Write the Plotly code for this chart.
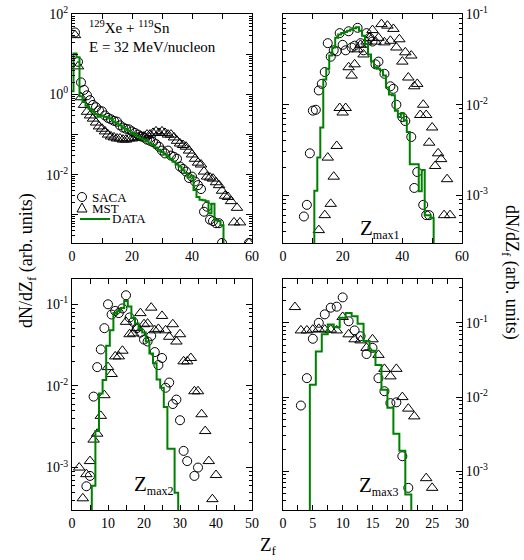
import plotly.graph_objects as go

W, H = 524, 560          # browser window
OFF = 0                  # page margin removed via post_script below
FW, FH = W - OFF, H - OFF
FONT = "Liberation Serif"
GREEN = "rgb(0,128,0)"

# ---------------- Panel 1 : all fragments ----------------
p1_data_z = list(range(0, 52))
p1_data_v = [1.2, 10.5, 8.5, 0.9, 0.65, 0.52, 0.44, 0.37, 0.32, 0.28,
             0.30, 0.28, 0.27, 0.25, 0.21, 0.19, 0.17, 0.15, 0.14, 0.125,
             0.11, 0.10, 0.09, 0.08, 0.075, 0.068, 0.06, 0.055, 0.048, 0.042,
             0.037, 0.032, 0.028, 0.025, 0.021, 0.018, 0.016, 0.013, 0.011, 0.0085,
             0.0095, 0.0042, 0.0028, 0.0024, 0.0023, 0.0022, 0.0011, 0.0019, 0.00075, 0.0007,
             0.00055, 1e-6]

p1_saca_z = list(range(1, 51)) + [59]
p1_saca_v = [35, 6.5, 2.0, 1.3, 0.95, 0.72, 0.55, 0.48, 0.40, 0.38,
             0.30, 0.26, 0.24, 0.22, 0.21, 0.17, 0.15, 0.14, 0.135, 0.12,
             0.11, 0.10, 0.09, 0.085, 0.075, 0.07, 0.065, 0.058, 0.05, 0.04,
             0.034, 0.04, 0.03, 0.028, 0.025, 0.016, 0.014, 0.012, 0.0083, 0.009,
             0.0068, 0.0055, 0.0044, 0.0012, 0.0016, 0.00076, 0.0007, 0.00062, 0.00062, 0.0002,
             0.0002]

p1_mst_z = list(range(1, 57)) + [59]
p1_mst_v = [30, 5.0, 0.85, 0.55, 0.37, 0.30, 0.25, 0.20, 0.16, 0.14,
            0.12, 0.10, 0.09, 0.085, 0.08, 0.08, 0.075, 0.075, 0.08, 0.08,
            0.085, 0.085, 0.09, 0.09, 0.10, 0.10, 0.11, 0.12, 0.11, 0.12,
            0.11, 0.10, 0.10, 0.085, 0.07, 0.06, 0.055, 0.05, 0.04, 0.032,
            0.025, 0.02, 0.018, 0.012, 0.009, 0.0085, 0.008, 0.0065, 0.0055, 0.004,
            0.003, 0.0028, 0.0022, 0.00065, 0.0015, 0.00065, 0.0002]

# ---------------- Panel 2 : Zmax1 ----------------
p2_data_z = list(range(10, 52))
p2_data_v = [1e-6, 0.00112, 0.0026, 0.0056, 0.019, 0.025, 0.035, 0.043, 0.055, 0.060,
             0.062, 0.064, 0.066, 0.068, 0.070, 0.072, 0.066, 0.058, 0.047, 0.036,
             0.030, 0.026, 0.025, 0.024, 0.021, 0.0155, 0.013, 0.0127, 0.0086, 0.0073,
             0.0080, 0.0067, 0.0050, 0.0022, 0.0022, 0.0022, 0.0011, 0.0019, 0.0006, 0.0006,
             0.00056, 1e-6]

p2_saca_z = [7, 8, 9, 10, 11, 12, 13, 14, 15, 16, 17, 18, 19, 20, 21, 22, 23, 24, 25, 26,
             27, 28, 29, 30, 31, 32, 34, 36, 37, 38, 40, 41, 43, 44, 45, 47, 48, 49]
p2_saca_v = [5.8e-4, 7.8e-4, 2.9e-3, 8.6e-3, 8.8e-3, 0.0144, 0.017, 0.023, 0.048, 0.034,
             0.040, 0.039, 0.062, 0.046, 0.040, 0.065, 0.043, 0.045, 0.071, 0.048,
             0.040, 0.062, 0.055, 0.050, 0.028, 0.030, 0.022, 0.016, 0.015, 0.010,
             0.0073, 0.0066, 0.0044, 0.0012, 0.0018, 7.8e-4, 6.0e-4, 6.0e-4]

p2_mst_z = [12, 14, 15, 16, 17, 18, 19, 20, 21, 22, 23, 24, 25, 26, 27, 28, 29, 30, 31, 32,
            33, 34, 35, 36, 37, 38, 39, 40, 41, 42, 43, 44, 45, 46, 47, 48, 49, 50, 51, 52,
            53, 54, 55, 56]
p2_mst_v = [4.1e-4, 6e-4, 2.6e-3, 8e-4, 1.6e-3, 3.5e-3, 0.0092, 0.0082, 0.0092, 0.026,
            0.021, 0.028, 0.041, 0.046, 0.036, 0.050, 0.055, 0.067, 0.050, 0.055,
            0.078, 0.049, 0.075, 0.051, 0.069, 0.043, 0.053, 0.030, 0.038, 0.020,
            0.035, 0.016, 0.017, 0.0077, 0.010, 0.0077, 0.0038, 0.0056, 0.0021, 0.0029,
            0.0025, 6e-4, 0.0015, 6e-4]

# ---------------- Panel 3 : Zmax2 ----------------
p3_data_z = list(range(5, 31))
p3_data_v = [1e-6, 6.0e-4, 2.8e-3, 8.1e-3, 0.0118, 0.031, 0.048, 0.078, 0.082, 0.090,
             0.110, 0.094, 0.068, 0.058, 0.050, 0.045, 0.035, 0.025, 0.019, 0.012,
             0.0095, 0.0055, 0.0017, 0.0017, 4.9e-4, 1e-6]

p3_saca_z = [4, 5, 6, 7, 8, 9, 10, 11, 12, 13, 14, 15, 16, 17, 18, 19, 20, 21, 22, 23,
             24, 25, 26, 27, 28, 29, 30, 31, 32, 34, 35]
p3_saca_v = [5.9e-4, 7.9e-4, 7.4e-3, 0.017, 0.028, 0.051, 0.100, 0.075, 0.083, 0.078,
             0.089, 0.129, 0.069, 0.061, 0.051, 0.045, 0.037, 0.035, 0.041, 0.026,
             0.018, 0.022, 0.0095, 0.011, 0.006, 0.0068, 0.0038, 1.6e-3, 1.2e-3, 7.9e-4,
             1.0e-3]

p3_mst_z = list(range(2, 41))
p3_mst_v = [1e-3, 4.2e-4, 8.3e-4, 1.2e-3, 2.2e-3, 2.6e-3, 4.3e-3, 7.7e-3, 0.017, 0.014,
            0.023, 0.023, 0.027, 0.061, 0.043, 0.044, 0.051, 0.078, 0.057, 0.058,
            0.091, 0.048, 0.050, 0.072, 0.048, 0.040, 0.057, 0.035, 0.043, 0.020,
            0.020, 0.022, 0.0086, 0.0086, 4.5e-3, 2.8e-3, 1.2e-3, 4.1e-4, 8.1e-4]

# ---------------- Panel 4 : Zmax3 ----------------
p4_data_z = list(range(4, 23))
p4_data_v = [1e-6, 0.0147, 0.041, 0.070, 0.095, 0.087, 0.117, 0.136, 0.123, 0.097,
             0.057, 0.042, 0.027, 0.0126, 0.0072, 0.0032, 0.0019, 4.9e-4, 1e-6]

p4_saca_z = [3, 4, 5, 6, 7, 8, 9, 10, 11, 12, 13, 14, 15, 16, 17, 18, 19, 20, 21]
p4_saca_v = [0.0077, 0.018, 0.061, 0.10, 0.13, 0.16, 0.165, 0.22, 0.105, 0.079,
             0.066, 0.038, 0.046, 0.018, 0.012, 0.0083, 0.0085, 0.0016, 6e-4]

p4_mst_z = [2, 3, 4, 5, 6, 7, 8, 9, 10, 11, 12, 13, 14, 15, 16, 17, 18, 19, 20, 21, 22, 24, 25]
p4_mst_v = [0.163, 0.079, 0.079, 0.081, 0.083, 0.081, 0.081, 0.079, 0.12, 0.07,
            0.06, 0.058, 0.046, 0.06, 0.037, 0.024, 0.019, 0.024, 0.010, 0.007,
            0.0055, 8.1e-4, 6e-4]

panels = [
    (p1_saca_z, p1_saca_v, p1_mst_z, p1_mst_v, p1_data_z, p1_data_v),
    (p2_saca_z, p2_saca_v, p2_mst_z, p2_mst_v, p2_data_z, p2_data_v),
    (p3_saca_z, p3_saca_v, p3_mst_z, p3_mst_v, p3_data_z, p3_data_v),
    (p4_saca_z, p4_saca_v, p4_mst_z, p4_mst_v, p4_data_z, p4_data_v),
]

fig = go.Figure()
for i, (sz, sv, mz, mv, dz, dv) in enumerate(panels):
    sfx = "" if i == 0 else str(i + 1)
    fig.add_trace(go.Scatter(x=sz, y=sv, mode="markers", name="SACA",
                             marker=dict(symbol="circle-open", size=9, color="black",
                                         line=dict(width=1, color="black")),
                             xaxis="x" + sfx, yaxis="y" + sfx, showlegend=False))
    fig.add_trace(go.Scatter(x=mz, y=mv, mode="markers", name="MST",
                             marker=dict(symbol="triangle-up-open", size=10, color="black",
                                         line=dict(width=1, color="black")),
                             xaxis="x" + sfx, yaxis="y" + sfx, showlegend=False))
    fig.add_trace(go.Scatter(x=dz, y=dv, mode="lines", name="DATA",
                             line=dict(shape="hvh", color=GREEN, width=2),
                             xaxis="x" + sfx, yaxis="y" + sfx, showlegend=False))


def px(x):
    return (x - OFF) / FW


def py(y):
    return 1 - (y - OFF) / FH


tickfont = dict(family=FONT, size=14, color="black")
minor_log = [m * 10 ** e for e in range(-5, 3) for m in range(2, 10)]


def xax(dom, rng, dtick, mdtick, anchor):
    return dict(domain=dom, range=rng, anchor=anchor, tickmode="linear", tick0=0, dtick=dtick,
                ticks="inside", ticklen=5, tickwidth=1, tickcolor="black",
                showline=True, linecolor="black", linewidth=1, mirror="ticks",
                showgrid=False, zeroline=False, tickfont=tickfont, automargin=False,
                ticklabeloverflow="allow",
                minor=dict(tick0=0, dtick=mdtick, ticks="inside", ticklen=5,
                           tickcolor="black", tickwidth=1, showgrid=False))


def yax(dom, rng, tvals, ttext, side, anchor):
    return dict(domain=dom, range=rng, type="log", anchor=anchor, side=side,
                tickmode="array", tickvals=tvals, ticktext=ttext,
                ticks="inside", ticklen=6, tickwidth=1, tickcolor="black",
                showline=True, linecolor="black", linewidth=1, mirror="ticks",
                showgrid=False, zeroline=False, tickfont=tickfont, automargin=False,
                ticklabeloverflow="allow",
                minor=dict(tickvals=minor_log, ticks="inside", ticklen=3,
                           tickcolor="black", tickwidth=1, showgrid=False))


xl = [px(72), px(252)]
xr = [px(283), px(462)]
yt = [py(243), py(14)]
yb = [py(510), py(279)]

d3 = ["10<sup>-1</sup>", "10<sup>-2</sup>", "10<sup>-3</sup>"]
v3 = [0.1, 0.01, 0.001]

fig.update_layout(
    width=FW, height=FH, margin=dict(l=0, r=0, t=0, b=0),
    paper_bgcolor="white", plot_bgcolor="white", showlegend=False,
    xaxis=xax(xl, [0, 60], 20, 10, "y"),
    yaxis=yax(yt, [-3.7, 2.004], [100, 10, 1, 0.1, 0.01, 0.001],
              ["10<sup>2</sup>", "", "10<sup>0</sup>", "", "10<sup>-2</sup>", ""], "left", "x"),
    xaxis2=xax(xr, [0, 60], 20, 10, "y2"),
    yaxis2=yax(yt, [-3.53, -0.996], v3, d3, "right", "x2"),
    xaxis3=xax(xl, [0, 50], 10, 5, "y3"),
    yaxis3=yax(yb, [-3.52, -0.69], v3, d3, "left", "x3"),
    xaxis4=xax(xr, [0, 30], 5, 2.5, "y4"),
    yaxis4=yax(yb, [-3.52, -0.41], v3, d3, "right", "x4"),
)

ann = []


def text(x, y, s, size, xanchor="left", angle=0):
    ann.append(dict(x=px(x), y=py(y), xref="paper", yref="paper", text=s, showarrow=False,
                    xanchor=xanchor, yanchor="middle", textangle=angle, borderpad=0,
                    font=dict(family=FONT, size=size, color="black")))


def zsub(label, size):
    return "Z<sub><span style='font-size:%dpx'>%s</span></sub>" % (size, label)


text(88, 27, "<sup>129</sup>Xe + <sup>119</sup>Sn", 15)
text(88, 47, "E = 32 MeV/nucleon", 15)
text(359, 229, zsub("max1", 12), 21)
text(133, 485, zsub("max2", 12), 21)
text(358, 486, zsub("max3", 12), 21)
text(27, 261, "dN/dZ<sub>f</sub> (arb. units)", 18, "center", -90)
text(511, 272, "dN/dZ<sub>f</sub> (arb. units)", 18, "center", 90)
text(268, 546, "Z<sub>f</sub>", 19, "center")
# legend texts
text(91, 197, "SACA", 13)
text(91, 208, "MST", 13)
text(111, 219, "DATA", 13)
fig.update_layout(annotations=ann)

# legend symbols
shapes = [
    dict(type="circle", xref="paper", yref="paper", xsizemode="pixel", ysizemode="pixel",
         xanchor=px(82), yanchor=py(197), x0=-4.5, x1=4.5, y0=-4.5, y1=4.5,
         line=dict(color="black", width=1)),
    dict(type="path", xref="paper", yref="paper", xsizemode="pixel", ysizemode="pixel",
         xanchor=px(82), yanchor=py(208), path="M -5,-4 L 5,-4 L 0,5 Z",
         line=dict(color="black", width=1)),
    dict(type="line", xref="paper", yref="paper", x0=px(80), x1=px(110), y0=py(219), y1=py(219),
         line=dict(color=GREEN, width=2)),
]
fig.update_layout(shapes=shapes)

fig.write_html("out.html",
               config={"displayModeBar": False},
               post_script="document.body.style.margin='0px';"
                           "document.body.style.overflow='hidden';")
